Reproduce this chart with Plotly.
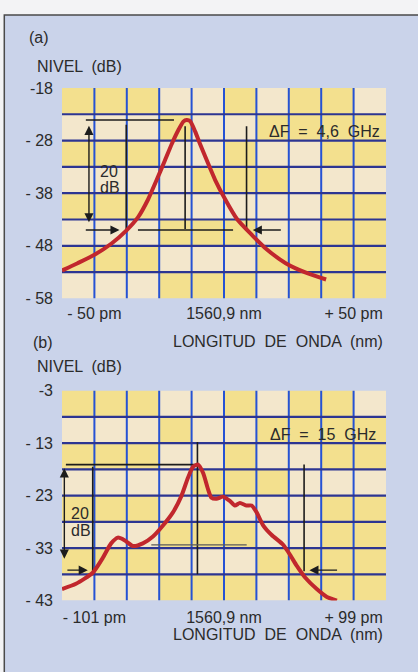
import numpy as np
import plotly.graph_objects as go

# ---------------- data: panel (a) ----------------
A_X_PM = [-62.5, -56.5, -50.0, -43.5, -37.7, -33.2, -29.3, -26.0, -22.8, -20.2, -17.6, -15.7, -14.4,
          -13.1, -11.1, -9.2, -6.6, -3.4, 0.5, 5.0, 10.9, 16.1, 23.8, 31.6, 39.4]
A_LEVEL_DB = [-52.7, -51.3, -49.7, -47.6, -45.1, -42.6, -39.2, -35.5, -31.8, -28.7, -26.0, -24.4, -24.1,
              -24.3, -26.3, -28.7, -31.8, -35.5, -39.2, -42.9, -46.0, -48.5, -51.3, -53.1, -54.4]
A_X_TICKS = [-50, 0, 50]
A_X_LABELS = ["- 50 pm", "1560,9 nm", "+ 50 pm"]
A_Y_TICKS = [-58, -48, -38, -28, -18]
A_Y_LABELS = ["- 58", "- 48", "- 38", "- 28", "-18"]
# marker segments (x0, y0, x1, y1)
A_SEGMENTS = [(-53.3, -24.1, -19.3, -24.1),
              (-37.7, -25.0, -37.7, -44.8),
              (-15.0, -25.3, -15.0, -44.8),
              (8.7, -25.3, 8.7, -45.1),
              (-33.2, -45.0, 3.5, -45.0)]
# arrows (from_x, from_y, to_x, to_y, double)
A_ARROWS = [(-52.1, -43.8, -52.1, -25.2, True),
            (-53.9, -45.0, -40.3, -45.0, False),
            (22.5, -45.0, 11.1, -45.0, False)]
A_DELTA_F = "ΔF  =  4,6  GHz"

# ---------------- data: panel (b) ----------------
B_X_PM = [-125.0, -114.2, -101.3, -93.6, -87.1, -81.9, -76.8, -70.3, -62.6, -54.8, -47.1, -39.4,
          -32.9, -27.8, -23.9, -20.0, -16.1, -12.3, -9.7, -5.8, -0.7, 4.5, 8.4, 12.3, 17.5, 21.3,
          25.2, 30.3, 36.8, 45.8, 51.0, 56.2, 62.6, 71.6, 79.4, 87.1]
B_LEVEL_DB = [-40.8, -39.8, -37.7, -34.9, -32.1, -31.0, -31.5, -32.6, -32.1, -30.8, -28.7, -26.2,
              -23.1, -19.6, -17.5, -17.1, -18.7, -21.8, -23.4, -23.6, -23.2, -24.0, -24.9, -24.4,
              -24.9, -24.9, -26.2, -28.7, -30.5, -32.4, -34.3, -36.4, -38.6, -40.8, -42.3, -43.0]
B_X_TICKS = [-100, 0, 100]
B_X_LABELS = ["- 101 pm", "1560,9 nm", "+ 99 pm"]
B_Y_TICKS = [-43, -33, -23, -13, -3]
B_Y_LABELS = ["- 43", "- 33", "- 23", "- 13", "-3"]
B_SEGMENTS = [(-122.0, -17.1, -21.0, -17.1),
              (-101.3, -17.5, -101.3, -38.0),
              (-20.5, -12.8, -20.5, -38.0),
              (61.8, -17.1, 61.8, -37.4)]
B_GRAY_SEGMENTS = [(-56.1, -32.4, 17.5, -32.4)]
B_ARROWS = [(-123.2, -35.3, -123.2, -17.8, True),
            (-122.0, -37.2, -105.1, -37.2, False),
            (88.4, -37.2, 65.9, -37.2, False)]
B_DELTA_F = "ΔF  =  15  GHz"

# ---------------- style ----------------
W, H = 418, 672
FONT = "Liberation Sans, Arial, Helvetica, sans-serif"
TXT = "#2b2b2b"
RED = "#c1272d"
YELLOW = "#f3e08e"
CREAM = "#f3e7cc"
VGRID = "#2552d4"
HGRID = "#2c3592"
HATCH = "#cad3ea"
BG_PATTERN = ["1110010110",
              "0001001111",
              "1110010011",
              "0000111000",
              "1110000011",
              "0001110011",
              "1110001111",
              "0001110111"]


def px(x):
    return x / W


def py(y):
    return 1 - y / H


fig = go.Figure()
shapes = [dict(type="rect", xref="paper", yref="paper", x0=px(4.3), x1=1.02, y0=-0.02, y1=py(7.3),
               fillcolor=HATCH, line=dict(color="#4a4a4a", width=1.5), layer="below")]
annotations = []


def panel(xa, ya, xlim, ylim, xdiv, ydiv, xs, ys, segs, gsegs, arrows, df_text, df_pos, db_pos):
    xr, yr = xa, ya
    x_edges = np.arange(xlim[0], xlim[1] + xdiv / 2, xdiv)
    y_edges = np.arange(ylim[0], ylim[1] + ydiv / 2, ydiv)
    nrow = len(y_edges) - 1
    for r in range(nrow):
        for c in range(len(x_edges) - 1):
            col = YELLOW if BG_PATTERN[r][c] == "1" else CREAM
            shapes.append(dict(type="rect", xref=xr, yref=yr,
                               x0=x_edges[c], x1=x_edges[c + 1],
                               y0=y_edges[nrow - r - 1], y1=y_edges[nrow - r],
                               fillcolor=col, line=dict(width=0), layer="below"))
    for v in x_edges[1:-1]:
        shapes.append(dict(type="line", xref=xr, yref=yr, x0=v, x1=v, y0=ylim[0], y1=ylim[1],
                           line=dict(color=VGRID, width=2), layer="below"))
    for v in y_edges[1:-1]:
        shapes.append(dict(type="line", xref=xr, yref=yr, x0=xlim[0], x1=xlim[1], y0=v, y1=v,
                           line=dict(color=HGRID, width=2.2), layer="below"))
    lx, ly = [], []
    for s in segs:
        lx += [s[0], s[2], None]
        ly += [s[1], s[3], None]
    fig.add_trace(go.Scatter(x=lx, y=ly, mode="lines", line=dict(color="#1c1c1c", width=1.6),
                             xaxis=xa, yaxis=ya, hoverinfo="skip", showlegend=False))
    if gsegs:
        gx, gy = [], []
        for s in gsegs:
            gx += [s[0], s[2], None]
            gy += [s[1], s[3], None]
        fig.add_trace(go.Scatter(x=gx, y=gy, mode="lines", line=dict(color="#5a5a5a", width=1.2),
                                 xaxis=xa, yaxis=ya, hoverinfo="skip", showlegend=False))
    fig.add_trace(go.Scatter(x=xs, y=ys, mode="lines",
                             line=dict(color=RED, width=4, shape="spline", smoothing=0.6),
                             xaxis=xa, yaxis=ya, hoverinfo="skip", showlegend=False))
    for a in arrows:
        annotations.append(dict(x=a[2], y=a[3], ax=a[0], ay=a[1], xref=xr, yref=yr, axref=xr, ayref=yr,
                                text="", showarrow=True, arrowhead=2, arrowsize=1.3, arrowwidth=1.4,
                                startarrowhead=2, startarrowsize=1.3,
                                arrowcolor="#1c1c1c", arrowside="end+start" if a[4] else "end",
                                standoff=0, startstandoff=0))
    annotations.append(dict(x=df_pos[0], y=df_pos[1], xref=xr, yref=yr, text=df_text.replace("  ", " \u00a0"),
                            showarrow=False, xanchor="left", yanchor="middle",
                            font=dict(family=FONT, size=16, color=TXT)))
    annotations.append(dict(x=db_pos[0], y=db_pos[1], xref=xr, yref=yr, text="20", showarrow=False,
                            xanchor="left", yanchor="middle", font=dict(family=FONT, size=16, color=TXT)))
    annotations.append(dict(x=db_pos[0], y=db_pos[2], xref=xr, yref=yr, text="dB", showarrow=False,
                            xanchor="left", yanchor="middle", font=dict(family=FONT, size=16, color=TXT)))


panel("x", "y", (-62.5, 62.5), (-58, -18), 12.5, 5, A_X_PM, A_LEVEL_DB, A_SEGMENTS, [], A_ARROWS,
      A_DELTA_F, (16.6, -26.3), (-48.7, -33.9, -36.9))
panel("x2", "y2", (-125, 125), (-43, -3), 25, 5, B_X_PM, B_LEVEL_DB, B_SEGMENTS, B_GRAY_SEGMENTS, B_ARROWS,
      B_DELTA_F, (34.0, -11.3), (-119.4, -26.4, -29.6))

# static labels
for txt, x, y, anchor in [("(a)", 27, 30, "left"), ("NIVEL  (dB)", 35, 60, "left"),
                          ("LONGITUD  DE  ONDA  (nm)", 385, 342, "right"),
                          ("(b)", 31, 343, "left"), ("NIVEL  (dB)", 35, 368, "left"),
                          ("LONGITUD  DE  ONDA  (nm)", 385, 643, "right")]:
    annotations.append(dict(x=px(x), y=py(y), xref="paper", yref="paper", text=txt.replace("  ", " \u00a0"),
                            showarrow=False, xanchor=anchor, yanchor="middle",
                            font=dict(family=FONT, size=16, color=TXT)))

axis_common = dict(showgrid=False, zeroline=False, showline=False, ticks="", fixedrange=True,
                   tickfont=dict(family=FONT, size=16, color=TXT), tickmode="array")

fig.update_layout(
    width=W, height=H, autosize=False, margin=dict(l=0, r=0, t=0, b=0),
    paper_bgcolor="#f3f3f5", plot_bgcolor="rgba(0,0,0,0)", showlegend=False,
    xaxis=dict(domain=[px(62), px(386)], range=[-62.5, 62.5], anchor="y",
               tickvals=A_X_TICKS, ticktext=A_X_LABELS, ticklabelstandoff=4, **axis_common),
    yaxis=dict(domain=[py(298), py(82)], range=[-58, -18], anchor="x",
               tickvals=A_Y_TICKS, ticktext=A_Y_LABELS, ticklabelstandoff=8, **axis_common),
    xaxis2=dict(domain=[px(62), px(386)], range=[-125, 125], anchor="y2",
                tickvals=B_X_TICKS, ticktext=B_X_LABELS, ticklabelstandoff=5, **axis_common),
    yaxis2=dict(domain=[py(608), py(392.5)], range=[-43, -3], anchor="x2",
                tickvals=B_Y_TICKS, ticktext=B_Y_LABELS, ticklabelstandoff=8, **axis_common),
    shapes=shapes, annotations=annotations,
)

fig.write_html("out.html")
